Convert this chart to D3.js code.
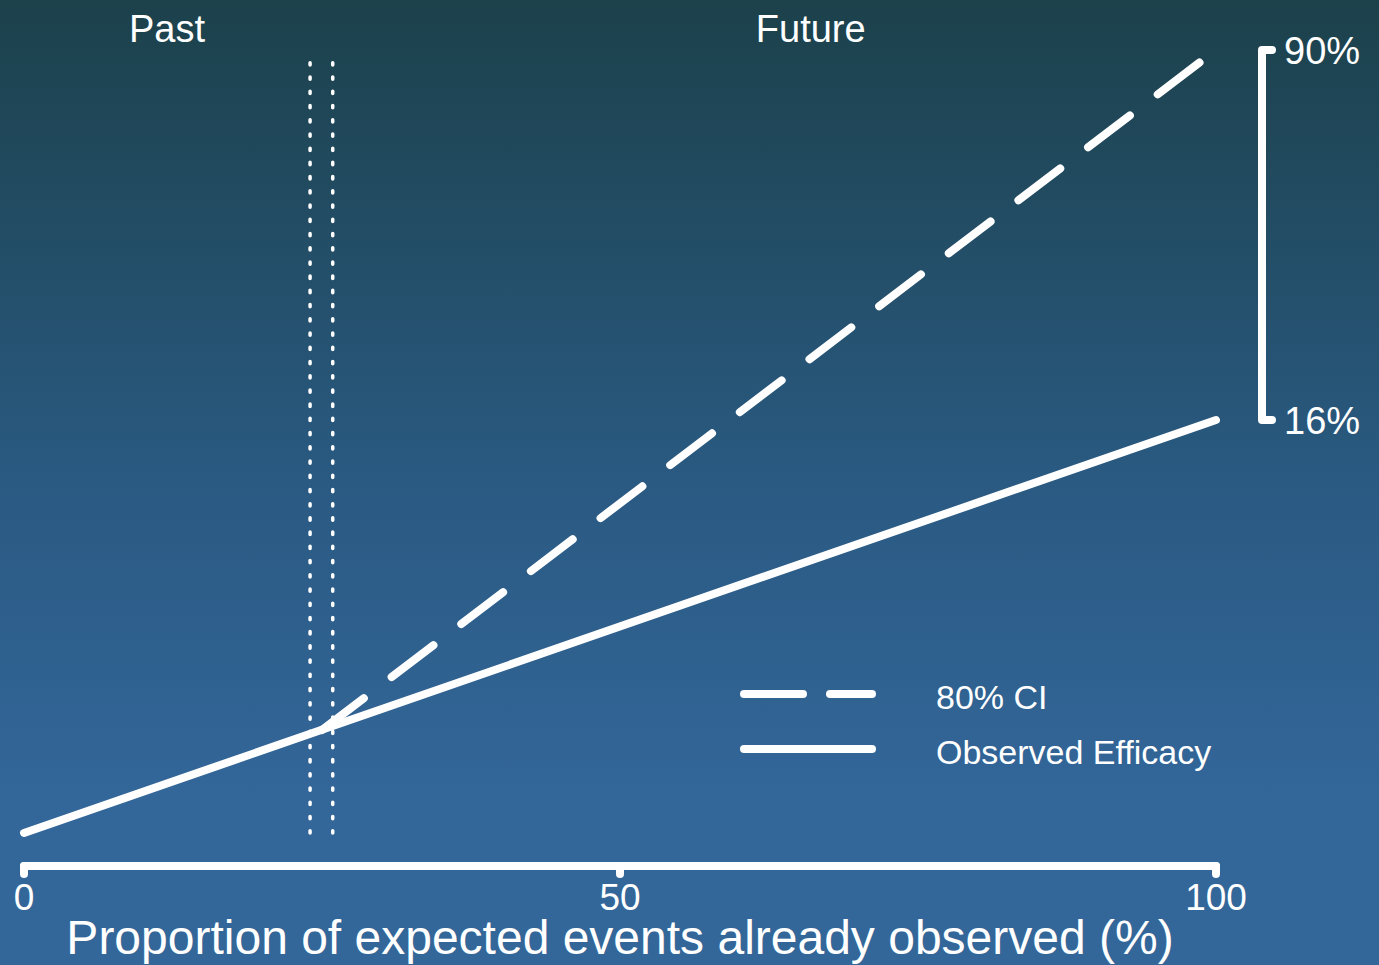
<!DOCTYPE html>
<html>
<head>
<meta charset="utf-8">
<script src="https://cdn.jsdelivr.net/npm/d3@7"></script>
<style>
  html, body { margin: 0; padding: 0; overflow: hidden; }
  svg { display: block; font-family: "Liberation Sans", Arial, sans-serif; }
</style>
</head>
<body>
<script>
// ---- data ----
const observedX = [0, 100];
const observedY = [-66.6, 16];          // observed efficacy (%)
const ciX = [25, 100];
const ciY = [-46, 90];                  // upper 80% CI (%)
const cutoffs = [24, 25.9];             // vertical dotted markers (x)
const cutoffSpan = [-66.6, 87.6];       // y extent of dotted markers
const bracketValues = [90, 16];
const bracketLabels = ["90%", "16%"];
const xTicks = [0, 50, 100];
const periodLabels = ["Past", "Future"];
const periodPos = [12, 66];
const legendLabels = ["80% CI", "Observed Efficacy"];
const xTitle = "Proportion of expected events already observed (%)";

const W = 1379, H = 965;
const svg = d3.select("body").append("svg").attr("width", W).attr("height", H);

// background gradient
const defs = svg.append("defs");
const grad = defs.append("linearGradient").attr("id", "bg")
  .attr("x1", 0).attr("y1", 0).attr("x2", 0).attr("y2", 1);
[[0, "#1c414b"], [0.5, "#2a5a82"], [0.82, "#336699"], [1, "#346799"]]
  .forEach(([o, c]) => grad.append("stop").attr("offset", o).attr("stop-color", c));
svg.append("rect").attr("width", W).attr("height", H).attr("fill", "url(#bg)");

const x = d3.scaleLinear().domain([0, 100]).range([24, 1216]);
const y = d3.scaleLinear().domain([16, 90]).range([420, 50]);

const line = d3.line().x(d => x(d[0])).y(d => y(d[1]));

// dotted vertical markers (drawn bottom-up)
svg.selectAll(".cut").data(cutoffs).enter().append("line")
  .attr("x1", d => x(d)).attr("x2", d => x(d))
  .attr("y1", y(cutoffSpan[0])).attr("y2", y(cutoffSpan[1]))
  .attr("stroke", "#fff").attr("stroke-width", 3.5)
  .attr("stroke-linecap", "round").attr("stroke-dasharray", "2.3,11.92");

// observed efficacy line
svg.append("path").datum(d3.zip(observedX, observedY)).attr("d", line)
  .attr("fill", "none").attr("stroke", "#fff").attr("stroke-width", 8)
  .attr("stroke-linecap", "round");

// CI dashed line
svg.append("path").datum(d3.zip(ciX, ciY)).attr("d", line)
  .attr("fill", "none").attr("stroke", "#fff").attr("stroke-width", 8)
  .attr("stroke-linecap", "round").attr("stroke-dasharray", "52.5,35");

// bracket on right
const bx = 1262;
svg.append("path")
  .attr("d", `M${bx + 10},${y(bracketValues[0])}H${bx}V${y(bracketValues[1])}H${bx + 10}`)
  .attr("fill", "none").attr("stroke", "#fff").attr("stroke-width", 8)
  .attr("stroke-linecap", "round").attr("stroke-linejoin", "round");
svg.selectAll(".bl").data(bracketValues).enter().append("text")
  .attr("x", 1284).attr("y", d => y(d) + 14)
  .attr("fill", "#fff").attr("font-size", 38)
  .text((d, i) => bracketLabels[i]);

// x axis
const axisY = 866;
svg.append("line").attr("x1", x(0)).attr("x2", x(100)).attr("y1", axisY).attr("y2", axisY)
  .attr("stroke", "#fff").attr("stroke-width", 8).attr("stroke-linecap", "round");
svg.selectAll(".tk").data(xTicks).enter().append("line")
  .attr("x1", d => x(d)).attr("x2", d => x(d)).attr("y1", axisY).attr("y2", axisY + 8)
  .attr("stroke", "#fff").attr("stroke-width", 8).attr("stroke-linecap", "round");
svg.selectAll(".tl").data(xTicks).enter().append("text")
  .attr("x", d => x(d)).attr("y", 910).attr("text-anchor", "middle")
  .attr("fill", "#fff").attr("font-size", 37).text(d => d);
svg.append("text").attr("x", x(50)).attr("y", 954).attr("text-anchor", "middle")
  .attr("fill", "#fff").attr("font-size", 48).text(xTitle);

// period labels
svg.selectAll(".pl").data(periodLabels).enter().append("text")
  .attr("x", (d, i) => x(periodPos[i])).attr("y", 42).attr("text-anchor", "middle")
  .attr("fill", "#fff").attr("font-size", 38).text(d => d);

// legend
const legY = [694, 749];
const lg = svg.append("g");
lg.selectAll(".ll").data(legendLabels).enter().append("line")
  .attr("x1", 744).attr("x2", 872).attr("y1", (d, i) => legY[i]).attr("y2", (d, i) => legY[i])
  .attr("stroke", "#fff").attr("stroke-width", 8).attr("stroke-linecap", "round")
  .attr("stroke-dasharray", (d, i) => i === 0 ? "59,27" : null);
lg.selectAll(".lt").data(legendLabels).enter().append("text")
  .attr("x", 936).attr("y", (d, i) => legY[i] + 15)
  .attr("fill", "#fff").attr("font-size", 34).text(d => d);
</script>
</body>
</html>
